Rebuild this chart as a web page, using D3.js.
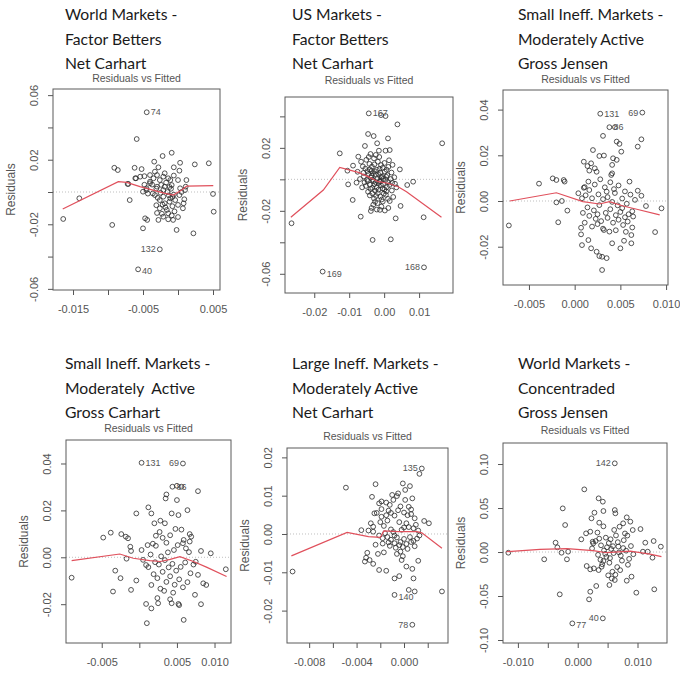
<!DOCTYPE html>
<html>
<head>
<meta charset="utf-8">
<script src="https://cdn.jsdelivr.net/npm/d3@7"></script>
<style>
  body { margin: 0; background: #fff; }
  svg { display: block; }
  .head { font-family: Lato, "Open Sans", sans-serif; font-size: 15.7px; fill: #1a1a1a; white-space: pre; }
  .tick text { font-family: "Liberation Sans", Arial, sans-serif; font-size: 11px; fill: #555; }
  .tick line { stroke: #555; }
  .ptitle { font-family: "Liberation Sans", Arial, sans-serif; font-size: 10.5px; fill: #555; }
  .ylab { font-family: "Liberation Sans", Arial, sans-serif; font-size: 12px; fill: #555; }
  .plab { font-family: "Liberation Sans", Arial, sans-serif; font-size: 9px; fill: #555; }
</style>
</head>
<body>
<svg id="chart" width="680" height="677"></svg>
<script>
// headlines above each plot
var heads = [
  ["World Markets -", "Factor Betters", "Net Carhart"],
  ["US Markets -", "Factor Betters", "Net Carhart"],
  ["Small Ineff. Markets -", "Moderately Active", "Gross Jensen"],
  ["Small Ineff. Markets -", "Moderately  Active", "Gross Carhart"],
  ["Large Ineff. Markets -", "Moderately Active", "Net Carhart"],
  ["World Markets -", "Concentraded", "Gross Jensen"]
];

// axis ranges and ticks (fitted on x, residuals on y)
var xDomains = [[-0.01786, 0.006], [-0.02837, 0.0197], [-0.00784, 0.01021], [-0.00975, 0.01219], [-0.00987, 0.00371], [-0.01249, 0.01493]];
var yDomains = [[-0.0607, 0.0638], [-0.0722, 0.0523], [-0.03676, 0.04858], [-0.03655, 0.05002], [-0.02846, 0.02245], [-0.1034, 0.1239]];

var xTicks = [
  [-0.015, -0.01, -0.005, 0, 0.005],
  [-0.02, -0.01, 0, 0.01],
  [-0.005, 0, 0.005, 0.01],
  [-0.005, 0, 0.005, 0.01],
  [-0.008, -0.006, -0.004, -0.002, 0, 0.002],
  [-0.01, -0.005, 0, 0.005, 0.01]
];
var xTickLabels = [
  ["-0.015", "", "-0.005", "", "0.005"],
  ["-0.02", "-0.01", "0.00", "0.01"],
  ["-0.005", "0.000", "0.005", "0.010"],
  ["-0.005", "", "0.005", "0.010"],
  ["-0.008", "", "-0.004", "", "0.000", ""],
  ["-0.010", "", "0.000", "", "0.010"]
];
var yTicks = [
  [-0.06, -0.04, -0.02, 0, 0.02, 0.04, 0.06],
  [-0.06, -0.04, -0.02, 0, 0.02, 0.04],
  [-0.02, 0, 0.02, 0.04],
  [-0.02, 0, 0.02, 0.04],
  [-0.02, -0.01, 0, 0.01, 0.02],
  [-0.1, -0.05, 0, 0.05, 0.1]
];
var yTickLabels = [
  ["-0.06", "", "-0.02", "", "0.02", "", "0.06"],
  ["-0.06", "", "-0.02", "", "0.02", ""],
  ["-0.02", "0.00", "0.02", "0.04"],
  ["-0.02", "0.00", "0.02", "0.04"],
  ["-0.02", "-0.01", "0.00", "0.01", "0.02"],
  ["-0.10", "-0.05", "0.00", "0.05", "0.10"]
];

// points [fitted, residual]
var p1Points = [
  [-0.00447,0.0494],[-0.0059,0.0328],[-0.0009,0.0243],[-0.0022,0.0223],[-0.0034,0.0188],[0.0003,0.0181],[0.0024,0.0171],[0.0044,0.0178],
  [-0.0091,0.015],[-0.0086,0.0136],[-0.0062,0.015],[-0.0052,0.0142],[-0.0028,0.0153],[-0.0006,0.0153],[0.0002,0.0132],[-0.0071,0.005],
  [-0.006,0.0085],[-0.0054,0.0095],[-0.004,0.0105],[-0.0033,0.0126],[-0.0019,0.0116],[-0.0014,0.0085],[-0.0026,0.0074],[0.0,0.0074],
  [0.0012,0.0074],[0.0011,0.0033],[-0.004,0.0064],[-0.0045,0.0012],[-0.003,0.0033],[-0.0021,0.0012],[-0.0164,-0.0167],[-0.0141,-0.0039],
  [-0.0094,-0.0204],[-0.0069,-0.005],[-0.0072,0.005],[-0.0061,0.0085],[-0.005,-0.0225],[-0.0047,-0.0163],[-0.0044,-0.0173],[-0.0057,-0.0479],
  [-0.0026,-0.0355],[-0.0028,-0.0173],[-0.0021,-0.0153],[-0.0014,-0.0169],[-0.0016,-0.0111],[-0.0026,-0.0101],[-0.0019,-0.007],[-0.0026,-0.005],
  [-0.0033,-0.0019],[-0.0021,-0.0029],[-0.0011,-0.0039],[-0.0004,-0.005],[-0.0019,0.0033],[-0.0009,0.0043],[-0.004,0.0054],[-0.0045,0.0023],
  [-0.005,0.0002],[-0.003,0.0105],[-0.0021,0.0095],[-0.0011,0.0074],[0.0002,-0.0019],[0.0003,0.0023],[0.0007,-0.0101],[-0.0002,-0.0235],
  [0.0022,-0.0256],[0.005,-0.0012],[0.0051,-0.0122],[0.0008,-0.007],[-0.0007,-0.0173],[-0.0014,-0.0132],[-0.0035,0.0085],[-0.0015,0.0],
  [-0.0008,-0.003],[-0.0025,-0.0005],[-0.001,0.002],[0.0,-0.008],[-0.0005,-0.012],[-0.0018,-0.0095],[0.0005,0.0],[-0.003,-0.013],
  [-0.0012,-0.006],[-0.0048,0.0045],[-0.0043,-0.001],[-0.0009,-0.0145],[-0.0023,-0.0135],[0.0,-0.0155],[0.0009,-0.0045],[-0.0006,0.0102],
  [-0.0048,0.0098],[0.001,0.0012],[-0.0031,0.0021],[-0.0024,0.0044],[-0.0017,0.0058],[-0.0036,-0.0009],[-0.0029,-0.0036],[-0.0013,-0.0021],
  [-0.0006,-0.0016],[-0.0022,-0.0078],[-0.0008,-0.0088],[-0.0031,-0.0082],[-0.0012,0.0031],[-0.0037,0.0046]
];
var p2Points = [
  [-0.0044,0.0419],[0.0004,0.0402],[-0.0009,0.0408],[0.0038,0.0349],[-0.0046,0.0288],[-0.003,0.0275],[0.0011,0.026],[-0.002,0.0229],
  [-0.0055,0.0212],[0.0166,0.0229],[-0.0127,0.0165],[-0.0015,0.0182],[0.0004,0.0182],[0.0016,0.0186],[-0.0039,0.0161],[-0.0074,0.0144],
  [-0.0089,0.0087],[-0.0105,0.0055],[0.0045,0.0063],[0.0083,-0.0015],[0.0066,-0.0036],[-0.0103,-0.0032],[-0.0079,-0.0021],[-0.009,-0.0131],
  [-0.0067,-0.0237],[0.0047,-0.0169],[0.0033,-0.0248],[0.0113,-0.0241],[-0.0033,-0.0385],[0.0019,-0.0381],[-0.0265,-0.0279],[-0.0176,-0.0586],
  [0.0114,-0.0559],
  [-0.0051,0.0124],[-0.0042,0.0098],[-0.0029,0.0133],[-0.0018,0.0112],[-0.0009,0.0091],[0.0001,0.0104],[0.0012,0.0079],[-0.0061,0.0082],
  [-0.0048,0.0052],[-0.0041,0.0063],[-0.0032,0.0038],[-0.0021,0.0061],[-0.0011,0.0042],[0.0002,0.0049],[0.0009,0.0027],[0.0021,0.0043],
  [-0.0058,0.0018],[-0.0049,-0.0003],[-0.0038,0.0011],[-0.0031,-0.0012],[-0.0019,0.0008],[-0.0012,-0.0009],[-0.0002,0.0003],[0.0011,-0.0018],
  [0.0019,0.0002],[-0.0052,-0.0042],[-0.0039,-0.0061],[-0.0028,-0.0031],[-0.0022,-0.0053],[-0.0009,-0.0038],[0.0001,-0.0064],[0.0008,-0.0049],
  [0.0022,-0.0071],[0.0031,-0.0028],[-0.0041,-0.0102],[-0.0029,-0.0122],[-0.0018,-0.0088],[-0.0011,-0.0109],[-0.0001,-0.0091],[0.0011,-0.0124],
  [-0.0031,-0.0161],[-0.0021,-0.0192],[-0.0008,-0.0173],[0.0002,-0.0198],[0.0012,-0.0182],[-0.0038,-0.0201],[-0.0026,-0.0143],[0.0016,-0.0138],
  [-0.0046,-0.0079],[-0.0035,0.0081],[-0.0066,0.0112],[-0.0014,0.0142],[0.0024,0.0092],[0.0029,0.0013],[-0.0056,-0.0019],[-0.0016,-0.0024],
  [0.0006,0.0016],[-0.0024,0.0029],[-0.0034,-0.0054],[0.0006,-0.0077],[-0.0004,-0.0141],[-0.0036,-0.0182],[0.0026,-0.0112],[-0.0076,0.0048],
  [-0.0069,0.0002],[-0.0063,-0.0051],
  [-0.0044,0.0035],[-0.0036,0.0022],[-0.0027,0.0051],[-0.0015,0.0028],[-0.0006,0.0017],[0.0004,-0.0004],[-0.0033,-0.0002],[-0.0024,-0.0019],
  [-0.0013,-0.0016],[-0.0003,-0.0029],[0.0015,-0.0036],[-0.0047,-0.0011],[-0.0041,-0.0034],[-0.0026,-0.0072],[-0.0016,-0.0066],[-0.0005,-0.0058],
  [0.0005,-0.0098],[-0.0034,-0.0089],[-0.0023,-0.0106],[-0.0007,-0.0128],[-0.0019,-0.0151],[-0.0012,-0.0194],[-0.0028,0.0095],[-0.0013,0.0067],
  [-0.0004,0.0073],[0.0007,0.0061],[-0.0054,0.0068],[-0.0044,0.0142],[-0.0024,0.0155],[0.0014,0.0121],[0.0023,-0.0022],[0.0035,-0.0051],
  [-0.0059,0.0041],[-0.0009,0.0013],[-0.0037,0.0052]
];
var p3Points = [
  [0.0028,0.0382],[0.0074,0.0387],[0.0038,0.0323],[0.0044,0.0323],[0.0031,0.0285],[0.0073,0.027],[0.0046,0.026],[0.0049,0.025],
  [0.0069,0.0238],[0.002,0.0223],[0.0051,0.0216],[0.0027,0.0197],[0.0032,0.0199],[0.0042,0.0187],[0.0046,0.018],[0.001,0.0172],
  [0.0018,0.0165],[0.0014,0.0153],[0.0022,0.0143],[0.0016,0.0133],[0.0024,0.0128],[0.0041,0.0158],[0.004,0.0114],[0.0041,0.0121],
  [-0.0024,0.0099],[-0.002,0.0092],[-0.0011,0.0085],[-0.0012,0.0092],[-0.0039,0.0076],[0.0004,0.0034],[0.001,0.0058],[0.0011,0.0061],
  [0.0016,0.0048],[0.006,0.0085],[0.0069,0.0045],[0.0073,0.0023],[0.0078,-0.0022],[0.0095,-0.0032],[0.0088,-0.0136],[-0.0072,-0.0107],
  [-0.0018,-0.0093],[-0.002,-0.0006],[-0.0014,0.0],[-0.0008,-0.0042],[0.0007,-0.0117],[0.0007,-0.0146],[0.0008,-0.0193],[0.0015,-0.0171],
  [0.0018,-0.0207],[0.0024,-0.0222],[0.0027,-0.0241],[0.003,-0.0244],[0.0035,-0.025],[0.003,-0.0302],[0.005,-0.0207],[0.0054,-0.0174],
  [0.0062,-0.0185],[0.0062,-0.0149],[0.0041,-0.0185],[0.0038,-0.0134],[0.0032,-0.0127],[0.0025,-0.0101],
  [0.0015,0.0085],[0.0022,0.0072],[0.0028,0.0095],[0.0033,0.006],[0.0039,0.0082],[0.0044,0.0035],[0.0048,0.0068],[0.0055,0.0042],
  [0.0061,0.0028],[0.0012,0.0025],[0.0019,0.0012],[0.0026,0.0029],[0.0031,0.0008],[0.0036,0.0017],[0.0041,-0.0004],[0.0047,-0.0019],
  [0.0052,-0.0031],[0.0057,-0.0012],[0.0063,-0.0045],[0.0014,-0.0028],[0.0021,-0.0041],[0.0027,-0.0018],[0.0034,-0.0052],[0.0039,-0.0036],
  [0.0045,-0.0062],[0.005,-0.0048],[0.0055,-0.0071],[0.0059,-0.0058],[0.0016,-0.0065],[0.0023,-0.0078],[0.0029,-0.0088],[0.0036,-0.0074],
  [0.0042,-0.0095],[0.0048,-0.0082],[0.0053,-0.0105],[0.0058,-0.009],[0.0064,-0.0068],[0.0011,-0.0095],[0.0019,-0.0112],[0.0031,-0.0121],
  [0.0045,-0.0128],[0.0056,-0.0135],[0.0063,-0.0116],[0.0035,0.0041],[0.0043,0.0052],[0.0025,-0.0058],[0.0052,0.0011],[0.0008,0.0012],
  [0.0066,0.0005],[0.0009,-0.0052]
];
var p4Points = [
  [0.0003,0.0403],[0.0058,0.04],[0.0044,0.0301],[0.005,0.0305],[0.0056,0.0301],[0.0078,0.0282],[0.0036,0.0268],[0.0035,0.0251],
  [0.005,0.0244],[0.0012,0.0213],[-0.0004,0.0187],[0.0043,0.0187],[0.0052,0.018],[0.0064,0.0201],[0.0016,0.0187],[0.0028,0.0156],
  [0.0034,0.0145],[0.002,0.0145],[-0.0048,0.0084],[-0.0038,0.0105],[-0.0024,0.0099],[-0.0018,0.0088],[-0.0015,0.0081],[-0.0012,0.0045],
  [-0.0011,0.0027],[-0.0017,-0.0006],[0.0003,0.0031],[0.0005,-0.0011],[0.0009,-0.0033],[-0.0032,-0.0057],[-0.0025,-0.0089],[-0.0035,-0.0146],
  [-0.0011,-0.0139],[-0.0004,-0.0099],[-0.009,-0.0087],[0.001,-0.0281],[0.0009,-0.0199],[0.0016,-0.0218],[0.0024,-0.0174],[0.0025,-0.0196],
  [0.0041,-0.0179],[0.0043,-0.0196],[0.0052,-0.0199],[0.0053,-0.0204],[0.0059,-0.0267],[0.0074,-0.016],[0.0082,-0.02],[0.0085,-0.0111],
  [0.0089,-0.0118],[0.0095,0.0017],[0.0115,-0.0051],[0.0082,0.0027],[0.0067,0.0099],[0.0069,0.0088],[0.0067,0.0067],[0.0059,0.0074],
  [0.0058,0.006],
  [0.0018,0.0058],[0.0022,0.0049],[0.0027,0.0108],[0.0031,0.0083],[0.0036,0.0062],[0.0041,0.0094],[0.0046,0.0031],[0.0051,0.0052],
  [0.0062,0.0038],[0.0066,0.0022],[0.0015,0.0012],[0.0021,-0.0021],[0.0026,-0.0031],[0.0029,0.0004],[0.0034,-0.0012],[0.0039,-0.0043],
  [0.0044,-0.0028],[0.0049,-0.0057],[0.0055,-0.0041],[0.0061,-0.0022],[0.0068,-0.0068],[0.0072,-0.0031],[0.0019,-0.0072],[0.0024,-0.0089],
  [0.0031,-0.0062],[0.0036,-0.0105],[0.0041,-0.0081],[0.0047,-0.0117],[0.0053,-0.0094],[0.0058,-0.0128],[0.0064,-0.0106],[0.0028,-0.0134],
  [0.0033,-0.0143],[0.0045,-0.0151],[0.0016,-0.0118],[0.0038,0.0021],[0.0011,0.0052],[0.0056,0.0118],[0.0012,-0.0042],[0.0078,-0.0075],
  [0.0075,-0.0019],[0.0048,0.0121],[0.0022,0.0092]
];
var p5Points = [
  [0.0015,0.0171],[0.0013,0.0157],[-0.0008,-0.0159],[0.0007,-0.0237],[-0.0094,-0.0098],[-0.0049,0.0121],[-0.0036,0.001],[-0.0024,0.013],
  [-0.0001,0.0132],[0.0005,0.0125],[0.0001,0.0115],[-0.0005,0.0106],[0.0007,0.0093],[0.0032,-0.015],[0.0017,0.0034],[0.0021,0.0028],
  [-0.0032,-0.0062],[-0.0029,-0.0068],[-0.0026,-0.0078],[-0.0021,-0.0094],[-0.0015,-0.0096],[-0.0008,-0.0116],[-0.0004,-0.011],[0.0004,-0.0146],
  [0.0009,-0.015],[0.0008,-0.0116],[0.0012,-0.007],[0.0007,-0.0091],[0.0002,-0.0085],[-0.0002,-0.0068],
  [-0.0027,0.0097],[-0.0021,0.008],[-0.0019,0.0085],[-0.0015,0.0082],[-0.0012,0.0076],[-0.0009,0.0089],[-0.0025,0.0054],[-0.0023,0.0055],
  [-0.0019,0.0045],[-0.0028,0.0028],[-0.0026,0.0019],[-0.003,0.0009],[-0.0017,0.0021],[-0.0014,0.0035],[-0.0011,0.0012],[-0.0008,0.0048],
  [-0.0005,0.0062],[-0.0003,0.0072],[0.0,0.0056],[0.0003,0.0049],[0.0006,0.0052],[0.0009,0.0041],[-0.0021,-0.0004],[-0.0018,-0.0011],
  [-0.0014,-0.0008],[-0.0011,-0.0015],[-0.0008,-0.0024],[-0.0006,-0.0009],[-0.0003,-0.0021],[0.0,-0.0013],[0.0002,-0.0026],[0.0005,-0.0008],
  [0.0008,-0.0018],[0.0011,-0.0012],[0.0013,-0.0004],[-0.0012,-0.0031],[-0.0007,-0.0036],[-0.0004,-0.0029],[-0.0001,-0.0034],[0.0003,-0.0039],
  [-0.0016,0.0002],[-0.0009,0.0005],[-0.0002,0.0011],[0.0004,0.0018],[0.001,0.0024],[0.0012,0.0009],[-0.0024,-0.0028],[-0.0031,-0.0049],
  [-0.0022,-0.0052],[-0.0017,-0.0048],[-0.0033,-0.0072],[-0.0006,-0.0052],[0.0001,0.0089],[-0.0006,0.0099],[-0.0013,0.0061],[0.0006,0.0064],
  [0.0008,0.0015],[-0.0001,-0.0058],
  [-0.0019,0.0065],[-0.0011,0.0055],[-0.0004,0.0031],[0.0002,0.0028],[-0.0026,0.0006],[-0.0008,-0.0004],[0.0,0.0017],[0.0006,-0.0021],
  [-0.0013,-0.0022],[-0.0003,-0.0046],[0.0009,-0.0032],[-0.002,0.0031],[-0.0015,0.0049],[0.0004,0.0071],[-0.001,0.0102],[-0.0018,-0.0025]
];
var p6Points = [
  [0.0062,0.1008],[-0.0009,-0.0811],[0.0042,-0.0754],[-0.0116,-0.0008],[-0.0056,-0.0083],[-0.0037,0.0106],[-0.0034,0.0053],[-0.0025,0.0496],
  [-0.0021,0.0307],[-0.0027,-0.0008],[-0.0018,-0.0083],[-0.003,-0.0481],[-0.0016,0.0004],[0.0011,0.0712],[0.0035,0.061],[0.0042,0.0572],
  [0.0043,0.0466],[0.0028,0.0447],[0.0062,0.0477],[0.0063,0.044],[0.0006,0.0144],[0.0014,0.0212],[0.0023,0.0383],[0.0036,0.0333],
  [0.0021,0.0231],[0.0025,0.0117],[0.0026,0.0098],[0.0082,0.0394],[0.0088,0.0345],[0.0076,0.0326],[0.0092,0.025],[0.0105,0.0261],
  [0.0113,0.0106],[0.0127,0.0125],[0.0139,0.0061],[0.0117,0.0004],[0.0109,0.0004],[0.0125,-0.0064],[0.0128,-0.0424],[0.0098,-0.0462],
  [0.009,-0.028],[0.0082,-0.0326],[0.0062,-0.0318],[0.0053,-0.0375],[0.0031,-0.0386],[0.0021,-0.0451],[0.0019,-0.0538],[0.0015,-0.0159],
  [0.0021,-0.0197],[0.0027,-0.0186],[0.0035,-0.0205],[0.004,-0.0167],[0.0043,-0.0102],
  [0.0024,0.0041],[0.003,0.0125],[0.0034,-0.0032],[0.0039,0.0076],[0.0044,0.0018],[0.0048,-0.0055],[0.0052,0.0102],[0.0056,0.0035],
  [0.006,-0.0012],[0.0064,0.0188],[0.0068,0.0062],[0.0072,-0.0041],[0.0077,0.0134],[0.0081,0.0015],[0.0086,-0.0078],[0.0047,0.0163],
  [0.0053,-0.0122],[0.0058,-0.0224],[0.0061,0.0251],[0.0066,-0.0171],[0.007,0.0288],[0.0074,-0.0098],[0.0079,0.0211],[0.0084,-0.0145],
  [0.0089,0.0068],[0.0093,-0.0025],[0.0038,-0.0088],[0.0033,0.0221],[0.0043,0.0292],[0.0051,-0.0265],[0.0057,-0.0301],[0.0063,-0.0258],
  [0.0071,-0.0206],[0.0076,0.0045],[0.0049,0.0054],[0.0055,0.0145],[0.0041,-0.0139],[0.0067,0.0112],[0.0059,0.0066],[0.0046,-0.0021],
  [0.0054,-0.0069],[0.0069,-0.0005],[0.0083,0.0187],[0.0036,0.0152]
];

// smoother (red line)
var p1Lowess = [[-0.01647,-0.0105],[-0.00853,0.0064],[-0.00733,0.006],[-0.00543,0.0033],[-0.00357,0.0012],[-0.00186,-0.0008],[-0.00067,-0.0019],[0.00053,0.0012],[0.00124,0.0037],[0.00504,0.0039]];
var p2Lowess = [[-0.0267,-0.0241],[-0.0174,-0.0068],[-0.0127,0.0076],[-0.0074,0.0044],[-0.0046,0.0017],[-0.0017,-0.0015],[0.0011,-0.0025],[0.004,-0.0047],[0.0064,-0.0079],[0.0164,-0.0241]];
var p3Lowess = [[-0.0071,0.0],[-0.002,0.0036],[0.0009,-0.0003],[0.0027,-0.0013],[0.0038,-0.0003],[0.0053,-0.0022],[0.0068,-0.0036],[0.0093,-0.0061]];
var p4Lowess = [[-0.009,-0.0014],[-0.0026,0.0014],[-0.0008,-0.0004],[0.0014,-0.0014],[0.0028,-0.0018],[0.0041,-0.0009],[0.0054,0.0003],[0.0072,-0.0018],[0.009,-0.0043],[0.0116,-0.0082]];
var p5Lowess = [[-0.0095,-0.0057],[-0.0048,0.0004],[-0.003,-0.0007],[-0.002,-0.0009],[-0.0017,0.0008],[-0.0005,0.0006],[0.0011,0.0006],[0.0015,0.0003],[0.0032,-0.0037]];
var p6Lowess = [[-0.0119,0.0004],[-0.0063,0.003],[-0.0018,0.0038],[0.0026,0.0015],[0.0048,-0.0008],[0.0088,0.0011],[0.0121,-0.0023],[0.014,-0.0053]];

// labelled observations [fitted, residual, id, side]
var p1Labels = [[-0.00447,0.0494,"74","r"],[-0.0026,-0.0355,"132","l"],[-0.0057,-0.0479,"40","rb"]];
var p2Labels = [[-0.0044,0.0419,"167","r"],[-0.0176,-0.0586,"169","rb"],[0.0114,-0.0559,"168","l"]];
var p3Labels = [[0.0028,0.0382,"131","r"],[0.0074,0.0387,"69","l"],[0.0038,0.0323,"86","r"]];
var p4Labels = [[0.0003,0.0403,"131","r"],[0.0058,0.04,"69","l"],[0.0044,0.0301,"86","r"]];
var p5Labels = [[0.0015,0.0171,"135","l"],[-0.0008,-0.0159,"140","rb"],[0.0007,-0.0237,"78","l"]];
var p6Labels = [[0.0062,0.1008,"142","l"],[-0.0009,-0.0811,"77","rb"],[0.0042,-0.0754,"40","l"]];

// page layout for each plot box
var boxes = [
  { l: 53, r: 220, t: 89, b: 290, hx: 65, hy: 20, tt: 7 },
  { l: 285, r: 453, t: 97, b: 293, hx: 292, hy: 20, tt: 13 },
  { l: 503, r: 668, t: 90, b: 285, hx: 518, hy: 20, tt: 7 },
  { l: 66, r: 231, t: 440, b: 643, hx: 65, hy: 369, tt: 8 },
  { l: 287, r: 448, t: 448, b: 643, hx: 292, hy: 369, tt: 8 },
  { l: 503, r: 667, t: 443, b: 643, hx: 518, hy: 369, tt: 9 }
];

var points = [p1Points, p2Points, p3Points, p4Points, p5Points, p6Points];
var lowess = [p1Lowess, p2Lowess, p3Lowess, p4Lowess, p5Lowess, p6Lowess];
var labels = [p1Labels, p2Labels, p3Labels, p4Labels, p5Labels, p6Labels];

var svg = d3.select("#chart");

boxes.forEach(function(bx, i) {
  var x = d3.scaleLinear().domain(xDomains[i]).range([bx.l, bx.r]);
  var y = d3.scaleLinear().domain(yDomains[i]).range([bx.b, bx.t]);
  var g = svg.append("g");

  // headline
  heads[i].forEach(function(line, k) {
    g.append("text").attr("class", "head")
      .attr("x", bx.hx).attr("y", bx.hy + k * 24.5)
      .text(line);
  });

  g.append("text").attr("class", "ptitle")
    .attr("x", (bx.l + bx.r) / 2).attr("y", bx.t - bx.tt)
    .attr("text-anchor", "middle")
    .text("Residuals vs Fitted");

  // zero reference
  g.append("line")
    .attr("x1", bx.l).attr("x2", bx.r)
    .attr("y1", y(0)).attr("y2", y(0))
    .attr("stroke", "#b8b8b8").attr("stroke-width", 0.9)
    .attr("stroke-dasharray", "1,2");

  // axes
  var xa = g.append("g").attr("transform", "translate(0," + bx.b + ")")
    .call(d3.axisBottom(x).tickValues(xTicks[i]).tickSize(5).tickSizeOuter(0)
      .tickFormat(function(d, j) { return xTickLabels[i][j]; }));
  xa.select(".domain").remove();
  xa.selectAll(".tick text").attr("y", 15);

  var ya = g.append("g").attr("transform", "translate(" + bx.l + ",0)")
    .call(d3.axisLeft(y).tickValues(yTicks[i]).tickSize(5).tickSizeOuter(0)
      .tickFormat(function(d, j) { return yTickLabels[i][j]; }));
  ya.select(".domain").remove();
  ya.selectAll(".tick text")
    .attr("transform", "rotate(-90)")
    .attr("x", 0).attr("y", -19).attr("dy", "0.35em")
    .attr("text-anchor", "middle");

  g.append("text").attr("class", "ylab")
    .attr("transform", "translate(" + (bx.l - 38) + "," + ((bx.t + bx.b) / 2) + ") rotate(-90)")
    .attr("text-anchor", "middle")
    .text("Residuals");

  // box
  g.append("rect")
    .attr("x", bx.l).attr("y", bx.t)
    .attr("width", bx.r - bx.l).attr("height", bx.b - bx.t)
    .attr("fill", "none").attr("stroke", "#5a5a5a").attr("stroke-width", 1);

  // points
  g.selectAll("circle.pt").data(points[i]).enter().append("circle")
    .attr("class", "pt")
    .attr("cx", function(d) { return x(d[0]); })
    .attr("cy", function(d) { return y(d[1]); })
    .attr("r", 2.4)
    .attr("fill", "none").attr("stroke", "#2a2a2a").attr("stroke-width", 1)
    .attr("stroke-opacity", 0.8);

  // smoother
  g.append("path").datum(lowess[i])
    .attr("d", d3.line().x(function(d) { return x(d[0]); }).y(function(d) { return y(d[1]); }))
    .attr("fill", "none").attr("stroke", "#e0505c").attr("stroke-width", 1.2);

  // ids
  g.selectAll("text.plab").data(labels[i]).enter().append("text")
    .attr("class", "plab")
    .attr("x", function(d) { return x(d[0]) + (d[3] === "l" ? -4 : 4); })
    .attr("y", function(d) { return y(d[1]) + (d[3] === "rb" ? 5 : 3); })
    .attr("text-anchor", function(d) { return d[3] === "l" ? "end" : "start"; })
    .text(function(d) { return d[2]; });
});
</script>
</body>
</html>
